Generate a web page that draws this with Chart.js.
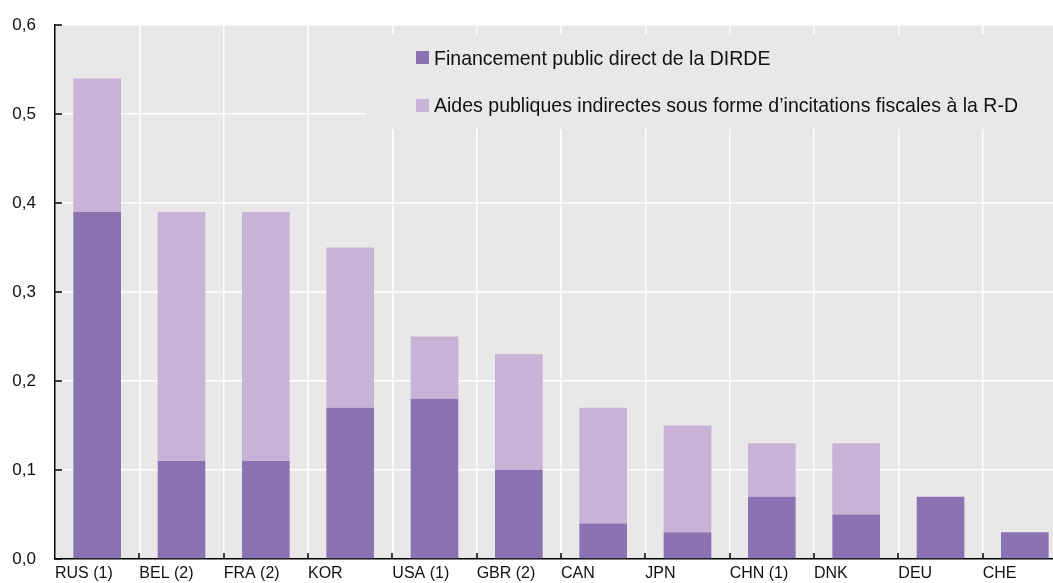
<!DOCTYPE html>
<html><head><meta charset="utf-8">
<script src="https://cdn.jsdelivr.net/npm/chart.js@4"></script>
<style>
html,body{margin:0;padding:0;overflow:hidden;background:#fff;width:1053px;height:583px}
#wrap{width:1067px;height:583px}
canvas{display:block}
</style></head>
<body><div id="wrap"><canvas id="c" width="1067" height="583"></canvas></div>
<script>
const categories = ['RUS (1)','BEL (2)','FRA (2)','KOR','USA (1)','GBR (2)','CAN','JPN','CHN (1)','DNK','DEU','CHE'];
const directFunding = [0.39,0.11,0.11,0.17,0.18,0.10,0.04,0.03,0.07,0.05,0.07,0.03];
const taxIncentives = [0.15,0.28,0.28,0.18,0.07,0.13,0.13,0.12,0.06,0.08,0,0];
const seriesLabels = ['Financement public direct de la DIRDE','Aides publiques indirectes sous forme d\u2019incitations fiscales \u00e0 la R-D'];
const yTickValues = [0,0.1,0.2,0.3,0.4,0.5,0.6];

const DARK = '#8B73B3', LIGHT = '#C8B2D6', BG = '#E8E8E8';
const FONT = "'Liberation Sans', Arial, sans-serif";

const bgPlugin = {
  id: 'bg',
  beforeDraw(chart) {
    const {ctx, chartArea: a} = chart;
    ctx.save(); ctx.fillStyle = BG;
    ctx.fillRect(a.left, a.top, a.right - a.left, a.bottom - a.top);
    ctx.restore();
  },
  afterDraw(chart) {
    const {ctx, chartArea: a, scales} = chart;
    ctx.save();
    ctx.strokeStyle = '#000'; ctx.lineWidth = 1.5;
    yTickValues.forEach(v => {
      const y = Math.round(scales.y.getPixelForValue(v));
      ctx.beginPath(); ctx.moveTo(a.left, y); ctx.lineTo(a.left + 7, y); ctx.stroke();
    });
    const w = (a.right - a.left) / categories.length;
    for (let i = 1; i < categories.length; i++) {
      const x = Math.round(a.left + i * w);
      ctx.beginPath(); ctx.moveTo(x, a.bottom); ctx.lineTo(x, a.bottom - 6); ctx.stroke();
    }
    ctx.fillStyle = BG;
    ctx.fillRect(366, 34, a.right - 366, 95);
    const items = [[DARK, 51, 65], [LIGHT, 99, 112]];
    ctx.font = '21px ' + FONT; ctx.textBaseline = 'alphabetic'; ctx.textAlign = 'left';
    items.forEach((it, i) => {
      ctx.fillStyle = it[0]; ctx.fillRect(416, it[1], 13, 13);
      ctx.save();
      ctx.translate(434, it[2]); ctx.scale(0.93, 1);
      ctx.fillStyle = '#111'; ctx.fillText(seriesLabels[i], 0, 0);
      ctx.restore();
    });
    ctx.restore();
  }
};

new Chart(document.getElementById('c'), {
  type: 'bar',
  data: {
    labels: categories,
    datasets: [
      {label: seriesLabels[0], data: directFunding, backgroundColor: DARK, barPercentage: 0.565, categoryPercentage: 1},
      {label: seriesLabels[1], data: taxIncentives, backgroundColor: LIGHT, barPercentage: 0.565, categoryPercentage: 1}
    ]
  },
  options: {
    responsive: false, animation: false, devicePixelRatio: 1,
    layout: {padding: {top: 25, left: 0, right: 0, bottom: 0}},
    plugins: {legend: {display: false}, tooltip: {enabled: false}},
    scales: {
      x: {
        stacked: true, offset: true,
        grid: {offset: true, color: '#fff', lineWidth: 1.5, drawTicks: false},
        border: {color: '#000', width: 1.5},
        ticks: {align: 'start', labelOffset: -42.17, padding: 7, color: '#111', font: {family: FONT, size: 16, lineHeight: 1}, maxRotation: 0, autoSkip: false},
        afterFit(s) { s.height = 24; }
      },
      y: {
        stacked: true, min: 0, max: 0.6,
        grid: {color: '#fff', lineWidth: 1.5, drawTicks: false},
        border: {color: '#000', width: 1.5},
        afterBuildTicks(s) { s.ticks = yTickValues.map(v => ({value: v})); },
        ticks: {padding: 19, color: '#111', font: {family: FONT, size: 17, lineHeight: 0.4},
          callback: v => v.toFixed(1).replace('.', ',')},
        afterFit(s) { s.width = 55; }
      }
    }
  },
  plugins: [bgPlugin]
});
</script>
</body></html>
